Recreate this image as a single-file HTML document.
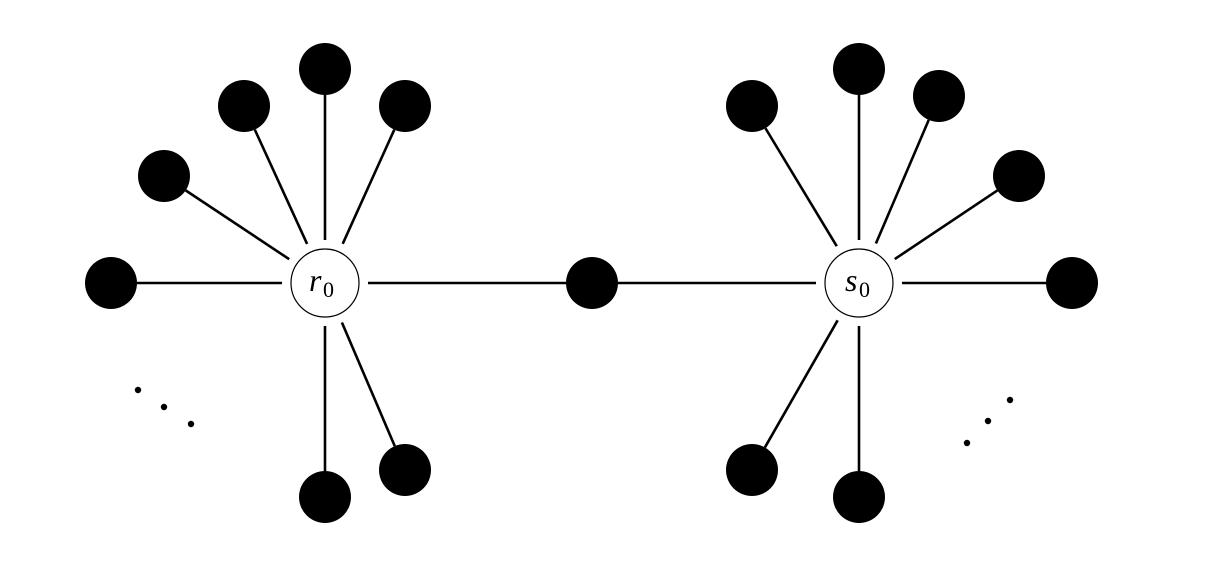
<!DOCTYPE html>
<html><head><meta charset="utf-8"><style>
html,body{margin:0;padding:0;background:#fff;}
svg{display:block;}
.v{font-family:"Liberation Serif","DejaVu Serif",serif;font-style:italic;font-size:32px;}
.n{font-family:"Liberation Serif","DejaVu Serif",serif;font-size:22px;}
</style></head><body>
<svg id="s" width="1206" height="572" viewBox="0 0 1206 572" xmlns="http://www.w3.org/2000/svg">
<g id="lines" stroke="#000" stroke-width="2.6" stroke-linecap="butt"></g>
<g id="nodes" fill="#000"></g>
<circle cx="325" cy="283" r="34" fill="#fff" stroke="#000" stroke-width="1.2"/>
<circle cx="859" cy="283" r="34" fill="#fff" stroke="#000" stroke-width="1.2"/>
<text x="309" y="291" class="v">r</text>
<text x="323" y="297" class="n">0</text>
<text x="845" y="291" class="v">s</text>
<text x="859" y="297" class="n">0</text>
<g fill="#000">
<circle cx="138" cy="390" r="3.2"/><circle cx="164" cy="407" r="3.2"/><circle cx="191" cy="424" r="3.2"/>
<circle cx="967" cy="443" r="3.2"/><circle cx="988" cy="421" r="3.2"/><circle cx="1010" cy="400" r="3.2"/>
</g>
</svg>
<script>
var NS="http://www.w3.org/2000/svg";
var L=document.getElementById('lines'),N=document.getElementById('nodes');
var R=26;
function edge(c,p){
  var dx=p[0]-c[0],dy=p[1]-c[1],d=Math.sqrt(dx*dx+dy*dy),ux=dx/d,uy=dy/d;
  var l=document.createElementNS(NS,'line');
  l.setAttribute('x1',c[0]+ux*43);l.setAttribute('y1',c[1]+uy*43);
  l.setAttribute('x2',p[0]-ux*R);l.setAttribute('y2',p[1]-uy*R);
  L.appendChild(l);
}
function node(p){var c=document.createElementNS(NS,'circle');c.setAttribute('cx',p[0]);c.setAttribute('cy',p[1]);c.setAttribute('r',R);N.appendChild(c);}
var r0=[325,283],s0=[859,283];
var left=[[111,283],[164,176],[244,106],[325,69],[405,106],[325,497],[405,470],[592,283]];
var right=[[752,106],[859,69],[939,96],[1019,176],[1072,283],[752,470],[859,497],[592,283]];
left.forEach(function(p){edge(r0,p);});
right.forEach(function(p){edge(s0,p);});
left.concat(right.slice(0,7)).forEach(node);
</script>
</body></html>
